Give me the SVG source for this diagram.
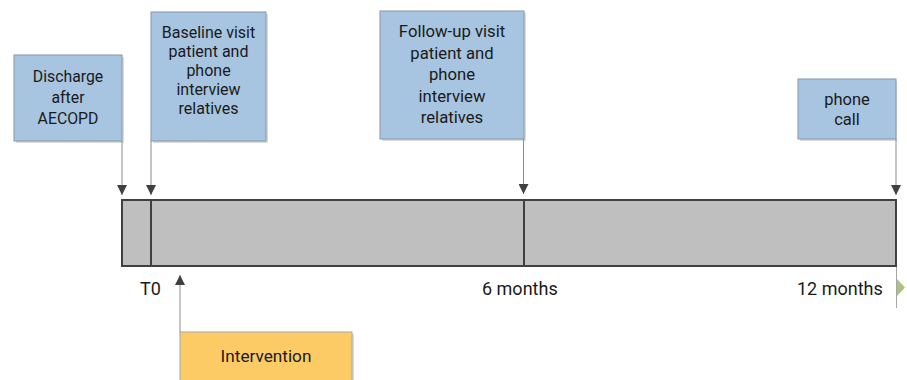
<svg xmlns="http://www.w3.org/2000/svg" width="907" height="380" viewBox="0 0 907 380">
<defs>
<style>
.box{fill:#A7C4E0;stroke:#8796A8;stroke-width:1}
.shadow{fill:#DCDCDC}
.t{font-family:Roboto,"Liberation Sans",sans-serif;font-size:16px;fill:#1a1a1a;text-anchor:middle}
.ax{font-family:Roboto,"Liberation Sans",sans-serif;font-size:18px;fill:#1a1a1a}
.conn{stroke:#8C8C8C;stroke-width:1;fill:none}
.bar{fill:#BFBFBF;stroke:#404040;stroke-width:2}
</style>
<marker id="ah" viewBox="0 0 10 10" refX="10" refY="5" markerWidth="10" markerHeight="10" markerUnits="userSpaceOnUse" orient="auto">
<path d="M0,0 L10,5 L0,10 Z" fill="#404040"/>
</marker>
</defs>
<rect width="907" height="380" fill="#FFFFFF"/>

<g id="timeline">
<rect class="bar" x="122" y="200" width="774" height="66"/>
<line x1="151" y1="200" x2="151" y2="266" stroke="#404040" stroke-width="2"/>
<line x1="524" y1="200" x2="524" y2="266" stroke="#404040" stroke-width="2"/>
</g>

<g id="discharge">
<rect class="shadow" x="16" y="57" width="108" height="86"/>
<rect class="box" x="14" y="55" width="108" height="86"/>
<text class="t" style="font-size:15.8px"><tspan x="68" y="82">Discharge</tspan><tspan x="68" y="103">after</tspan><tspan x="68" y="124">AECOPD</tspan></text>
</g>

<g id="baseline">
<rect class="shadow" x="153" y="14" width="115" height="129"/>
<rect class="box" x="151" y="12" width="115" height="129"/>
<text class="t"><tspan x="208.5" y="38">Baseline visit</tspan><tspan x="208.5" y="57">patient and</tspan><tspan x="208.5" y="76">phone</tspan><tspan x="208.5" y="95">interview</tspan><tspan x="208.5" y="114">relatives</tspan></text>
</g>

<g id="followup">
<rect class="shadow" x="382" y="13" width="144" height="128"/>
<rect class="box" x="380" y="11" width="144" height="128"/>
<text class="t" style="font-size:16.7px"><tspan x="452" y="37">Follow-up visit</tspan><tspan x="452" y="58.5">patient and</tspan><tspan x="452" y="80">phone</tspan><tspan x="452" y="101.5">interview</tspan><tspan x="452" y="123">relatives</tspan></text>
</g>

<g id="phonecall">
<rect class="shadow" x="800" y="81" width="97" height="60"/>
<rect class="box" x="798" y="79" width="98" height="60"/>
<text class="t" style="font-size:16.5px"><tspan x="847" y="105">phone</tspan><tspan x="847" y="125">call</tspan></text>
</g>

<g id="intervention">
<rect class="shadow" x="182" y="334" width="172" height="50"/>
<rect x="180" y="332" width="172" height="52" fill="#FCCB66" stroke="#A6A6A6" stroke-width="1"/>
<text class="t" style="font-size:17.2px" x="266" y="362">Intervention</text>
</g>

<g id="labels">
<text class="ax" x="150.5" y="295" text-anchor="middle">T0</text>
<text class="ax" x="482" y="295">6 months</text>
<text class="ax" x="797" y="295">12 months</text>
</g>

<g id="connectors">
<line class="conn" x1="122" y1="141" x2="122" y2="195" marker-end="url(#ah)"/>
<line class="conn" x1="151" y1="141" x2="151" y2="195" marker-end="url(#ah)"/>
<line class="conn" x1="523.5" y1="139" x2="523.5" y2="194" marker-end="url(#ah)"/>
<line class="conn" x1="896" y1="139" x2="896" y2="195" marker-end="url(#ah)"/>
<line class="conn" x1="180" y1="332" x2="180" y2="275" marker-end="url(#ah)"/>
<line x1="896.5" y1="267" x2="896.5" y2="308" stroke="#A6A6A6" stroke-width="1"/>
<path d="M897,279 L905,287.5 L897,296 Z" fill="#A9C47F"/>
</g>
</svg>
